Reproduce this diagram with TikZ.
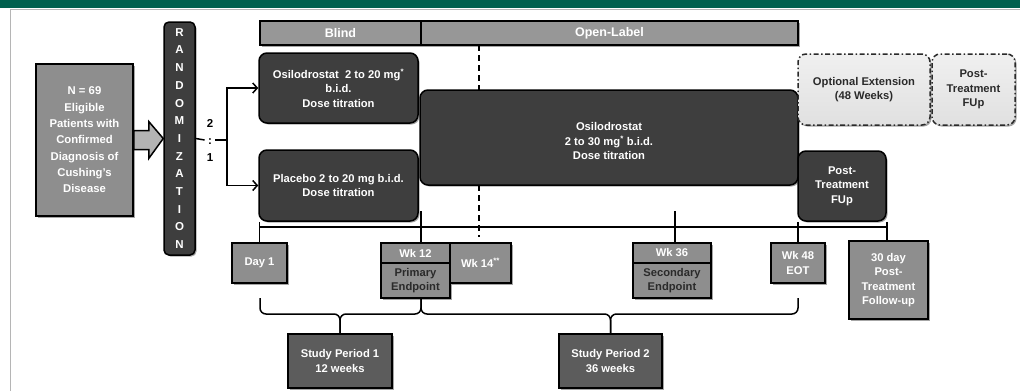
\documentclass[tikz,border=0pt]{standalone}
\usepackage{fontspec}
\setmainfont{Liberation Sans}
\usetikzlibrary{shadows,arrows.meta,calc}
\definecolor{dk}{HTML}{3E3E3E}
\definecolor{gr}{HTML}{8E8E8E}
\definecolor{bargray}{HTML}{979797}
\definecolor{spgray}{HTML}{5C5C5C}
\definecolor{arrowgray}{HTML}{B3B3B3}
\definecolor{topgreen}{HTML}{00604E}
\definecolor{framegray}{HTML}{B5B5B5}
\definecolor{txtdark}{HTML}{2A2A2A}
\begin{document}
\begin{tikzpicture}[x=1pt,y=-1pt,
  sh/.style={drop shadow={shadow xshift=1.5pt,shadow yshift=-1.5pt,opacity=0.35,fill=black}},
  box/.style={draw=black,line width=1.5pt,inner sep=0pt,align=center,text=white,
    font=\bfseries\fontsize{11.2}{14.5}\selectfont},
  dkbox/.style={box,fill=dk,rounded corners=8pt,sh},
  gbox/.style={box,fill=gr,sh},
  bar/.style={box,fill=bargray,sh,font=\bfseries\fontsize{12.5}{14}\selectfont},
  spbox/.style={box,fill=spgray,line width=2pt,sh},
  dashbox/.style={box,draw=txtdark,text=txtdark,rounded corners=8pt,
    dash pattern=on 5pt off 2.5pt on 1.5pt off 2.5pt,top color=white!88!gray,bottom color=white!76!gray,sh},
  conn/.style={draw=black,line width=1.5pt},
  arr/.style={conn,-{Straight Barb[length=4.5pt,width=10pt,line width=1.5pt]}},
  brace/.style={conn,rounded corners=6pt},
  bigarrow/.style={draw=black,line width=1.5pt,fill=arrowgray,line join=miter}
]
\useasboundingbox (0,0) rectangle (1020,391);
% header and frame
\fill[topgreen] (0,0) rectangle (1020,7.5);
\draw[framegray,line width=1pt] (10,391) -- (10,9.5) -- (1020,9.5);

% dashed week-14 line (behind the big box)
\coordinate (d0) at (479,45);
\coordinate (d1) at (479,237);
\draw[conn,dash pattern=on 6pt off 4pt] (d0) -- (d1);

% left part
\node[gbox,font=\bfseries\fontsize{11.3}{16.3}\selectfont,minimum width=97pt,minimum height=152pt] (n69) at (84.5,140)
  {N = 69\\Eligible\\Patients with\\Confirmed\\Diagnosis of\\Cushing's\\Disease};
\node[box,fill=dk,rounded corners=5pt,sh,font=\bfseries\fontsize{11.5}{17.7}\selectfont,minimum width=31pt,minimum height=233pt] (rand) at (179.5,138.5)
  {R\\A\\N\\D\\O\\M\\I\\Z\\A\\T\\I\\O\\N};
\node[align=center,fill=white,inner sep=2pt,font=\bfseries\fontsize{11.5}{17}\selectfont] (ratio) at (210,140) {2\\:\\1};

% phase bars
\node[bar,minimum width=161pt,minimum height=24pt] (blind) at (340.5,33) {Blind};
\node[bar,minimum width=377pt,minimum height=24pt] (open) at (609.5,33) {Open-Label};

% treatment boxes
\node[dkbox,minimum width=159pt,minimum height=70pt] (osi1) at (338.5,88)
  {Osilodrostat\ \ 2 to 20 mg\textsuperscript{*}\\b.i.d.\\Dose titration};
\node[dkbox,minimum width=159pt,minimum height=71pt] (plac) at (338.5,185.5)
  {Placebo 2 to 20 mg b.i.d.\\Dose titration};
\node[dkbox,minimum width=378pt,minimum height=95pt] (osi2) at (609,137.5)
  {\rule{0pt}{16pt}Osilodrostat\\2 to 30 mg\textsuperscript{*} b.i.d.\\Dose titration};
\node[dashbox,minimum width=132pt,minimum height=71pt] (optext) at (864,89.5)
  {Optional Extension\\(48 Weeks)};
\node[dashbox,minimum width=83pt,minimum height=71pt] (ptfu1) at (973.5,89.5)
  {Post-\\Treatment\\FUp};
\node[dkbox,minimum width=88pt,minimum height=70pt] (ptfu2) at (842,186)
  {Post-\\Treatment\\FUp};

% timepoint boxes
\node[gbox,minimum width=55pt,minimum height=40pt] (day1) at (259.5,263) {Day 1};
\node[gbox,minimum width=69pt,minimum height=20pt] (wk12) at (415.5,253) {Wk 12};
\node[gbox,text=txtdark,minimum width=69pt,minimum height=35pt] (prim) at (415.5,280.5) {Primary\\Endpoint};
\node[gbox,minimum width=61pt,minimum height=40pt] (wk14) at (480.5,263) {Wk 14\textsuperscript{**}};
\node[gbox,minimum width=78pt,minimum height=20pt] (wk36) at (672,253) {Wk 36};
\node[gbox,text=txtdark,minimum width=78pt,minimum height=35pt] (sec) at (672,280.5) {Secondary\\Endpoint};
\node[gbox,minimum width=54pt,minimum height=40pt] (wk48) at (798,263) {Wk 48\\EOT};
\node[gbox,minimum width=79pt,minimum height=78pt] (fu30) at (888.5,280) {30 day\\Post-\\Treatment\\Follow-up};

% study periods
\node[spbox,minimum width=104pt,minimum height=54pt] (sp1) at (340,361) {Study Period 1\\12 weeks};
\node[spbox,minimum width=103pt,minimum height=54pt] (sp2) at (610.5,361) {Study Period 2\\36 weeks};

% big block arrow
\draw[bigarrow] ([yshift=-9.5pt]n69.east) -- ([yshift=-9.5pt,xshift=15pt]n69.east)
  -- ([yshift=-18.5pt,xshift=15pt]n69.east) -- (rand.west)
  -- ([yshift=18.5pt,xshift=15pt]n69.east) -- ([yshift=9.5pt,xshift=15pt]n69.east)
  -- ([yshift=9.5pt]n69.east) -- cycle;

% randomisation connectors
\coordinate (split) at (227,140);
\draw[conn] (rand.east) -- (ratio.west);
\draw[conn] (ratio.east) -- (split);
\draw[arr] (split) |- (osi1.west);
\draw[arr] (split) |- (plac.west);

% timeline
\coordinate (tl0) at (260,227);
\coordinate (tl1) at (886,227);
\coordinate (t12) at (421,211);
\coordinate (t36) at (675,211);
\draw[conn] (tl0) -- (tl1);
\draw[conn] (day1.north |- plac.south) -- (day1.north);
\draw[conn] (t12) -- (t12 |- wk12.north);
\draw[conn] (t36) -- (t36 |- wk36.north);
\draw[conn] (wk48.north |- ptfu2.south) -- (wk48.north);
\draw[conn] (ptfu2.south east) -- (ptfu2.south east |- fu30.north);

% braces
\coordinate (b0) at (260,298);
\coordinate (b1) at (421,298);
\coordinate (b2) at (798,298);
\coordinate (by) at (0,314);
\draw[brace] (b0) |- (sp1.north |- by) -- (sp1.north);
\draw[brace] (b1) |- (sp1.north |- by) -- (sp1.north);
\draw[brace] (b1) |- (sp2.north |- by) -- (sp2.north);
\draw[brace] (b2) |- (sp2.north |- by) -- (sp2.north);
\end{tikzpicture}
\end{document}
